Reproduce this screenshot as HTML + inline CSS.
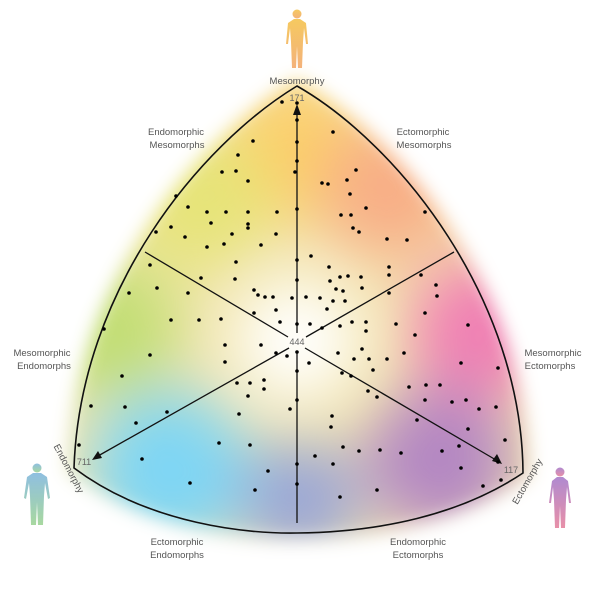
<!DOCTYPE html>
<html><head><meta charset="utf-8"><style>
html,body{margin:0;padding:0;background:#fff;}
svg{display:block;font-family:"Liberation Sans",sans-serif;}
</style></head><body>
<svg width="600" height="600" viewBox="0 0 600 600" xmlns="http://www.w3.org/2000/svg">
<defs>
<filter id="b" x="-50%" y="-50%" width="200%" height="200%"><feGaussianBlur stdDeviation="30"/></filter>
<filter id="bm" x="-20%" y="-20%" width="140%" height="140%"><feGaussianBlur stdDeviation="9"/></filter>
<linearGradient id="gTop" x1="0" y1="0" x2="0" y2="1"><stop offset="0" stop-color="#f5c960"/><stop offset="1" stop-color="#f4b27a"/></linearGradient>
<linearGradient id="gL" x1="0" y1="0" x2="0" y2="1"><stop offset="0" stop-color="#8fbfe0"/><stop offset="1" stop-color="#a8d8a0"/></linearGradient>
<linearGradient id="gR" x1="0" y1="0" x2="0" y2="1"><stop offset="0" stop-color="#b08ad0"/><stop offset="1" stop-color="#e890a8"/></linearGradient>
<path id="shape" d="M297,86 C200,145 80,290 74,468 C150,525 250,534 297,533 C380,532 460,515 523,473 C522,300 400,145 297,86 Z"/>
<mask id="m" maskUnits="userSpaceOnUse" x="0" y="0" width="600" height="600">
<g filter="url(#bm)"><use href="#shape" fill="#fff" stroke="#fff" stroke-width="14"/></g>
</mask>
</defs>
<g mask="url(#m)">
<rect x="0" y="0" width="600" height="600" fill="#f3e6b0"/>
<g filter="url(#b)">
<circle cx="297" cy="150" r="70" fill="#fccf6a"/>
<circle cx="200" cy="200" r="70" fill="#e6e478"/>
<circle cx="390" cy="190" r="70" fill="#f8ae86"/>
<circle cx="110" cy="330" r="70" fill="#c2de74"/>
<circle cx="480" cy="330" r="70" fill="#f080b4"/>
<circle cx="170" cy="470" r="80" fill="#7fd6f4"/>
<circle cx="300" cy="500" r="60" fill="#9aa6d6"/>
<circle cx="440" cy="460" r="75" fill="#b487c2"/>
<circle cx="297" cy="340" r="60" fill="#ffffff"/>
<circle cx="297" cy="330" r="40" fill="#ffffff"/>
</g>
</g>
<use href="#shape" fill="none" stroke="#111" stroke-width="1.6"/>
<g stroke="#111" stroke-width="1.3" fill="none">
<line x1="297" y1="333" x2="297" y2="112"/>
<line x1="297" y1="352" x2="297" y2="523"/>
<line x1="145" y1="252" x2="288" y2="337"/>
<line x1="454" y1="252" x2="306" y2="337"/>
<line x1="289" y1="348" x2="98" y2="456"/>
<line x1="305" y1="348" x2="496" y2="460"/>
</g>
<g fill="#111">
<polygon points="297,104 293,115 301,115"/>
<polygon points="92,460 98,451 102,458"/>
<polygon points="502,464 492,461 497,454"/>
</g>
<g font-size="9" fill="#666" text-anchor="middle">
<text x="297" y="101">171</text>
<text x="297" y="345">444</text>
<text x="84" y="465">711</text>
<text x="511" y="473">117</text>
</g>
<g font-size="9.5" fill="#555" text-anchor="middle">
<text x="297" y="84">Mesomorphy</text>
<text x="176" y="135">Endomorphic</text><text x="177" y="148">Mesomorphs</text>
<text x="423" y="135">Ectomorphic</text><text x="424" y="148">Mesomorphs</text>
<text x="42" y="356">Mesomorphic</text><text x="44" y="369">Endomorphs</text>
<text x="553" y="356">Mesomorphic</text><text x="550" y="369">Ectomorphs</text>
<text x="177" y="545">Ectomorphic</text><text x="177" y="558">Endomorphs</text>
<text x="418" y="545">Endomorphic</text><text x="418" y="558">Ectomorphs</text>
<text transform="translate(66,470) rotate(62)">Endomorphy</text>
<text transform="translate(530,483) rotate(-60)">Ectomorphy</text>
</g>
<g fill="url(#gTop)" transform="translate(297,8)">
<circle cx="0" cy="6" r="4.5"/>
<path d="M-3,11 L3,11 L9,15 L11,36 L9,36 L7,20 L6,34 L5,60 L1,60 L0,38 L-1,60 L-5,60 L-6,34 L-7,20 L-9,36 L-11,36 L-9,15 Z"/>
</g>
<g fill="url(#gL)" transform="translate(37,462)">
<circle cx="0" cy="6" r="4.5"/>
<path d="M-4,11 L4,11 L10,15 L13,36 L11,37 L8,21 L7,34 L6,63 L1,63 L0,40 L-1,63 L-6,63 L-7,34 L-8,21 L-11,37 L-13,36 L-10,15 Z"/>
</g>
<g fill="url(#gR)" transform="translate(560,466)">
<circle cx="0" cy="6" r="4.5"/>
<path d="M-3,11 L3,11 L8,15 L11,37 L9,37 L7,21 L6,34 L5,62 L1,62 L0,40 L-1,62 L-5,62 L-6,34 L-7,21 L-9,37 L-11,37 L-8,15 Z"/>
</g>
<g fill="#000">
<circle cx="282" cy="102" r="1.8"/><circle cx="297" cy="103" r="1.8"/><circle cx="297" cy="120" r="1.8"/><circle cx="333" cy="132" r="1.8"/><circle cx="253" cy="141" r="1.8"/><circle cx="297" cy="142" r="1.8"/><circle cx="238" cy="155" r="1.8"/><circle cx="222" cy="172" r="1.8"/><circle cx="297" cy="161" r="1.8"/><circle cx="356" cy="170" r="1.8"/><circle cx="322" cy="183" r="1.8"/><circle cx="188" cy="207" r="1.8"/><circle cx="207" cy="212" r="1.8"/><circle cx="226" cy="212" r="1.8"/><circle cx="248" cy="212" r="1.8"/><circle cx="248" cy="228" r="1.8"/><circle cx="277" cy="212" r="1.8"/><circle cx="295" cy="172" r="1.8"/><circle cx="236" cy="171" r="1.8"/><circle cx="248" cy="181" r="1.8"/><circle cx="347" cy="180" r="1.8"/><circle cx="350" cy="194" r="1.8"/><circle cx="366" cy="208" r="1.8"/><circle cx="328" cy="184" r="1.8"/><circle cx="341" cy="215" r="1.8"/><circle cx="351" cy="215" r="1.8"/><circle cx="353" cy="228" r="1.8"/><circle cx="359" cy="232" r="1.8"/><circle cx="387" cy="239" r="1.8"/><circle cx="407" cy="240" r="1.8"/><circle cx="425" cy="212" r="1.8"/><circle cx="176" cy="196" r="1.8"/><circle cx="156" cy="232" r="1.8"/><circle cx="171" cy="227" r="1.8"/><circle cx="185" cy="237" r="1.8"/><circle cx="211" cy="223" r="1.8"/><circle cx="248" cy="224" r="1.8"/><circle cx="232" cy="234" r="1.8"/><circle cx="207" cy="247" r="1.8"/><circle cx="224" cy="244" r="1.8"/><circle cx="261" cy="245" r="1.8"/><circle cx="276" cy="234" r="1.8"/><circle cx="297" cy="209" r="1.8"/><circle cx="297" cy="260" r="1.8"/><circle cx="311" cy="256" r="1.8"/><circle cx="329" cy="267" r="1.8"/><circle cx="348" cy="276" r="1.8"/><circle cx="340" cy="277" r="1.8"/><circle cx="361" cy="277" r="1.8"/><circle cx="330" cy="281" r="1.8"/><circle cx="389" cy="267" r="1.8"/><circle cx="389" cy="293" r="1.8"/><circle cx="437" cy="296" r="1.8"/><circle cx="150" cy="265" r="1.8"/><circle cx="157" cy="288" r="1.8"/><circle cx="188" cy="293" r="1.8"/><circle cx="236" cy="262" r="1.8"/><circle cx="235" cy="279" r="1.8"/><circle cx="201" cy="278" r="1.8"/><circle cx="297" cy="280" r="1.8"/><circle cx="306" cy="297" r="1.8"/><circle cx="254" cy="290" r="1.8"/><circle cx="258" cy="295" r="1.8"/><circle cx="265" cy="297" r="1.8"/><circle cx="273" cy="297" r="1.8"/><circle cx="292" cy="298" r="1.8"/><circle cx="320" cy="298" r="1.8"/><circle cx="336" cy="289" r="1.8"/><circle cx="345" cy="301" r="1.8"/><circle cx="333" cy="301" r="1.8"/><circle cx="343" cy="291" r="1.8"/><circle cx="362" cy="288" r="1.8"/><circle cx="389" cy="275" r="1.8"/><circle cx="421" cy="275" r="1.8"/><circle cx="436" cy="285" r="1.8"/><circle cx="129" cy="293" r="1.8"/><circle cx="104" cy="329" r="1.8"/><circle cx="171" cy="320" r="1.8"/><circle cx="199" cy="320" r="1.8"/><circle cx="221" cy="319" r="1.8"/><circle cx="254" cy="313" r="1.8"/><circle cx="276" cy="310" r="1.8"/><circle cx="280" cy="322" r="1.8"/><circle cx="297" cy="324" r="1.8"/><circle cx="310" cy="324" r="1.8"/><circle cx="322" cy="328" r="1.8"/><circle cx="327" cy="309" r="1.8"/><circle cx="340" cy="326" r="1.8"/><circle cx="352" cy="322" r="1.8"/><circle cx="366" cy="331" r="1.8"/><circle cx="366" cy="322" r="1.8"/><circle cx="396" cy="324" r="1.8"/><circle cx="415" cy="335" r="1.8"/><circle cx="425" cy="313" r="1.8"/><circle cx="468" cy="325" r="1.8"/><circle cx="150" cy="355" r="1.8"/><circle cx="122" cy="376" r="1.8"/><circle cx="91" cy="406" r="1.8"/><circle cx="125" cy="407" r="1.8"/><circle cx="136" cy="423" r="1.8"/><circle cx="167" cy="412" r="1.8"/><circle cx="225" cy="345" r="1.8"/><circle cx="225" cy="362" r="1.8"/><circle cx="250" cy="383" r="1.8"/><circle cx="264" cy="380" r="1.8"/><circle cx="261" cy="345" r="1.8"/><circle cx="276" cy="353" r="1.8"/><circle cx="287" cy="356" r="1.8"/><circle cx="297" cy="352" r="1.8"/><circle cx="309" cy="363" r="1.8"/><circle cx="297" cy="371" r="1.8"/><circle cx="297" cy="400" r="1.8"/><circle cx="290" cy="409" r="1.8"/><circle cx="338" cy="353" r="1.8"/><circle cx="354" cy="359" r="1.8"/><circle cx="369" cy="359" r="1.8"/><circle cx="362" cy="349" r="1.8"/><circle cx="373" cy="370" r="1.8"/><circle cx="387" cy="359" r="1.8"/><circle cx="404" cy="353" r="1.8"/><circle cx="342" cy="373" r="1.8"/><circle cx="351" cy="376" r="1.8"/><circle cx="368" cy="391" r="1.8"/><circle cx="377" cy="397" r="1.8"/><circle cx="409" cy="387" r="1.8"/><circle cx="425" cy="400" r="1.8"/><circle cx="440" cy="385" r="1.8"/><circle cx="426" cy="385" r="1.8"/><circle cx="461" cy="363" r="1.8"/><circle cx="498" cy="368" r="1.8"/><circle cx="452" cy="402" r="1.8"/><circle cx="466" cy="400" r="1.8"/><circle cx="479" cy="409" r="1.8"/><circle cx="496" cy="407" r="1.8"/><circle cx="468" cy="429" r="1.8"/><circle cx="505" cy="440" r="1.8"/><circle cx="237" cy="383" r="1.8"/><circle cx="248" cy="396" r="1.8"/><circle cx="239" cy="414" r="1.8"/><circle cx="264" cy="389" r="1.8"/><circle cx="219" cy="443" r="1.8"/><circle cx="250" cy="445" r="1.8"/><circle cx="142" cy="459" r="1.8"/><circle cx="190" cy="483" r="1.8"/><circle cx="268" cy="471" r="1.8"/><circle cx="255" cy="490" r="1.8"/><circle cx="297" cy="464" r="1.8"/><circle cx="297" cy="484" r="1.8"/><circle cx="315" cy="456" r="1.8"/><circle cx="333" cy="464" r="1.8"/><circle cx="340" cy="497" r="1.8"/><circle cx="377" cy="490" r="1.8"/><circle cx="331" cy="427" r="1.8"/><circle cx="332" cy="416" r="1.8"/><circle cx="343" cy="447" r="1.8"/><circle cx="359" cy="451" r="1.8"/><circle cx="380" cy="450" r="1.8"/><circle cx="401" cy="453" r="1.8"/><circle cx="417" cy="420" r="1.8"/><circle cx="442" cy="451" r="1.8"/><circle cx="459" cy="446" r="1.8"/><circle cx="461" cy="468" r="1.8"/><circle cx="483" cy="486" r="1.8"/><circle cx="501" cy="480" r="1.8"/><circle cx="498" cy="462" r="1.8"/><circle cx="79" cy="445" r="1.8"/>
</g>
</svg>
</body></html>
